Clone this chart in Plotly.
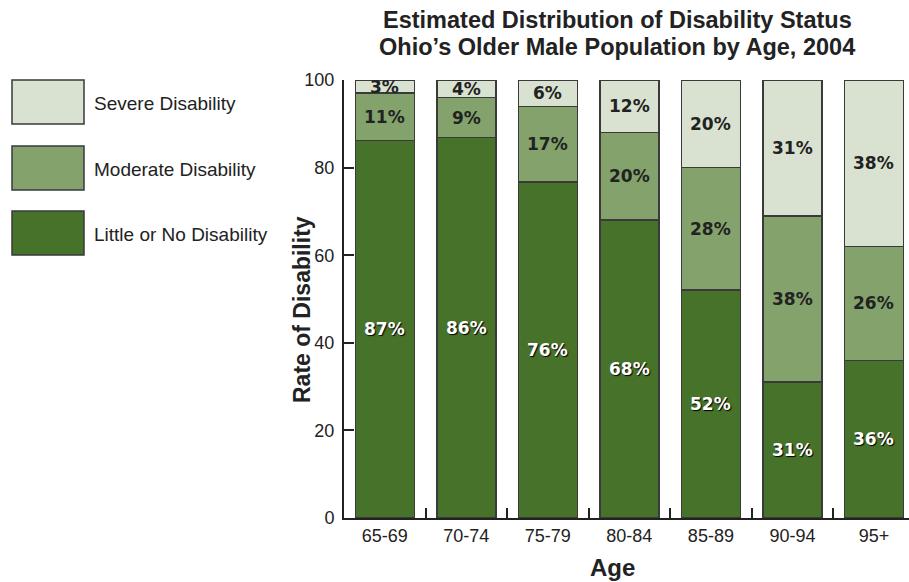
import plotly.graph_objects as go

# Age groups and disability shares (percent of older males), Ohio 2004
ages = ["65-69", "70-74", "75-79", "80-84", "85-89", "90-94", "95+"]
little = [87, 86, 76, 68, 52, 31, 36]
moderate = [11, 9, 17, 20, 28, 38, 26]
severe = [3, 4, 6, 12, 20, 31, 38]
y_ticks = [0, 20, 40, 60, 80, 100]

C_SEVERE = "#d9e2d1"
C_MOD = "#84a26c"
C_LITTLE = "#477229"
EDGE = "#3a3a3a"
TXT = "#222222"
NARROW = "Liberation Sans Narrow, Arial Narrow, Liberation Sans, Arial"
BOLD = "Liberation Sans, Arial, sans-serif"
LABEL_FONT = "DejaVu Sans, Verdana, sans-serif"

series = [
    ("Little or No Disability", little, C_LITTLE, "white", "1px 1px 1px #000"),
    ("Moderate Disability", moderate, C_MOD, TXT, "none"),
    ("Severe Disability", severe, C_SEVERE, TXT, "none"),
]

fig = go.Figure()
for name, vals, color, _, _ in series:
    fig.add_trace(go.Bar(
        x=ages, y=vals, name=name,
        marker=dict(color=color, line=dict(color=EDGE, width=1.5)),
        hovertemplate="%{x}: %{y:.0f}%<extra>" + name + "</extra>",
    ))

# Each age group's stack is scaled to 100 (rounded shares may not sum exactly),
# so segment labels are centred on the scaled segments.
totals = [sum(s[1][i] for s in series) for i in range(len(ages))]
for i, age in enumerate(ages):
    base = 0.0
    for _, vals, _, tcolor, shadow in series:
        h = vals[i] * 100.0 / totals[i]
        fig.add_annotation(
            x=age, y=base + h / 2, text=f"<b>{vals[i]}%</b>",
            showarrow=False, xanchor="center", yanchor="middle",
            font=dict(family=LABEL_FONT, size=17, color=tcolor, shadow=shadow),
        )
        base += h

fig.update_layout(
    width=909, height=582,
    margin=dict(l=344, r=0, t=80, b=64),
    barmode="stack", barnorm="percent", bargap=0.276,
    plot_bgcolor="white", paper_bgcolor="white",
    showlegend=False,
    xaxis=dict(
        type="category", range=[-0.5, 6.43],
        showline=True, linecolor=TXT, linewidth=2,
        ticks="inside", tickson="boundaries", ticklen=10, tickwidth=2,
        tickcolor=TXT,
        tickfont=dict(family=NARROW, size=18, color=TXT),
        showgrid=False, zeroline=False,
    ),
    yaxis=dict(
        range=[0, 100], tickvals=y_ticks,
        showline=True, linecolor=TXT, linewidth=2,
        ticks="inside", ticklen=10, tickwidth=2, tickcolor=TXT,
        tickfont=dict(family=NARROW, size=18, color=TXT),
        ticklabelstandoff=4,
        showgrid=False, zeroline=False,
    ),
)


def px_x(px):
    return (px - 344) / 565


def px_y(py):
    return (518 - py) / 438


# Chart title, two centred lines
for line, cy in [("Estimated Distribution of Disability Status", 20),
                 ("Ohio’s Older Male Population by Age, 2004", 47)]:
    fig.add_annotation(
        text=f"<b>{line}</b>", xref="paper", yref="paper",
        x=px_x(617), y=px_y(cy), showarrow=False,
        xanchor="center", yanchor="middle",
        font=dict(family=BOLD, size=23.5, color=TXT),
    )

# Axis titles
fig.add_annotation(
    text="<b>Rate of Disability</b>", textangle=-90,
    xref="paper", yref="paper", x=px_x(302), y=px_y(310),
    showarrow=False, xanchor="center", yanchor="middle",
    font=dict(family=BOLD, size=23, color=TXT),
)
fig.add_annotation(
    text="<b>Age</b>", xref="paper", yref="paper",
    x=px_x(612), y=px_y(567), showarrow=False,
    xanchor="center", yanchor="middle",
    font=dict(family=BOLD, size=24, color=TXT),
)

# Legend swatches with labels in the left margin
legend_items = [("Severe Disability", C_SEVERE, 80),
                ("Moderate Disability", C_MOD, 146),
                ("Little or No Disability", C_LITTLE, 211)]
for label, color, top in legend_items:
    fig.add_shape(
        type="rect", xref="paper", yref="paper",
        x0=px_x(12), x1=px_x(84), y0=px_y(top + 44), y1=px_y(top),
        fillcolor=color, line=dict(color=EDGE, width=1.5),
    )
    fig.add_annotation(
        text=label, xref="paper", yref="paper",
        x=px_x(92), y=px_y(top + 23), showarrow=False,
        xanchor="left", yanchor="middle",
        font=dict(family=NARROW, size=19, color=TXT),
    )

fig.write_html("out.html")
